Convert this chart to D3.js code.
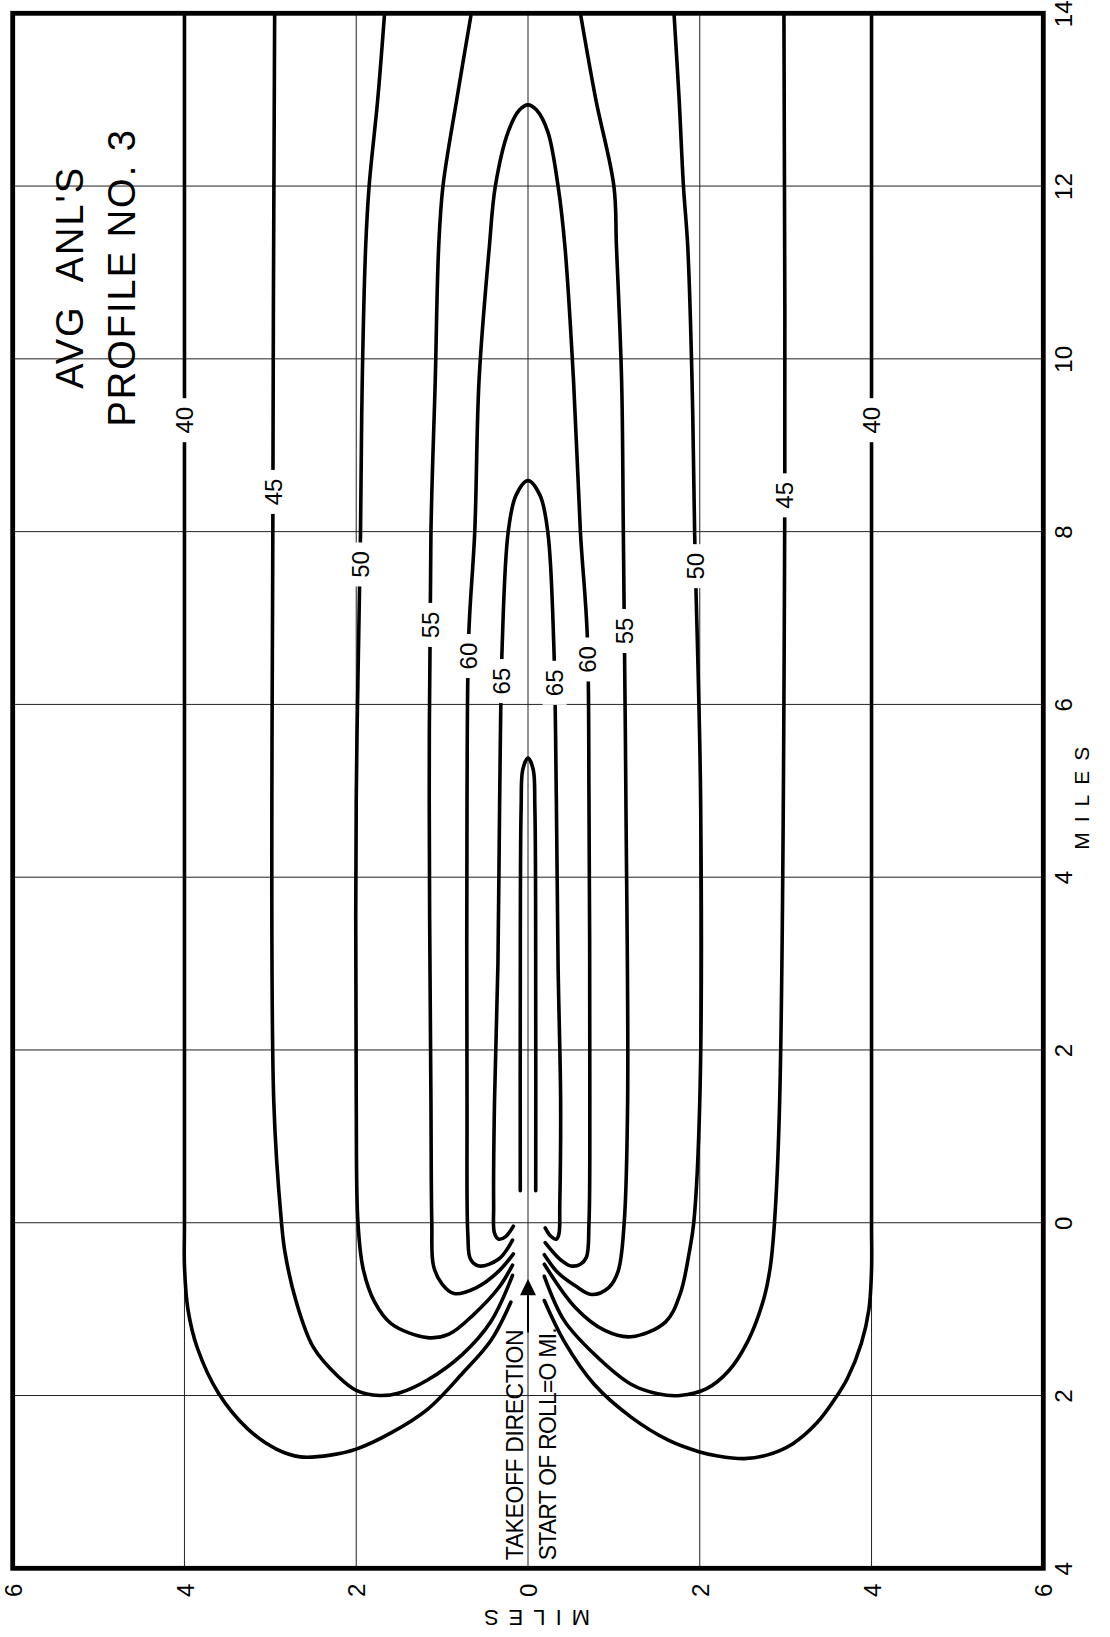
<!DOCTYPE html>
<html>
<head>
<meta charset="utf-8">
<script src="https://cdn.jsdelivr.net/npm/d3@7"></script>
<style>
    html, body { margin: 0; padding: 0; background: #fff; }
    svg { display: block; }
    text { font-family: "Liberation Sans", Arial, sans-serif; fill: #000; }
</style>
</head>
<body>
<svg id="drawing_region"></svg>
<script>
// ticks, miles
const alongTicks = [-4, -2, 0, 2, 4, 6, 8, 10, 12, 14];
const lateralTicks = [-6, -4, -2, 0, 2, 4, 6];
const alongGrid = [-2, 0, 2, 4, 6, 8, 10, 12];
const lateralGrid = [-4, -2, 0, 2, 4];

// contours as [lateral, along] in miles (left half, right half)
const contour40 = [
    [[-4.0, 14], [-4.0, 9.3], [-4.0, 4], [-4.0, 0], [-4.0, -0.5], [-3.96, -1.0], [-3.85, -1.45], [-3.6, -1.98], [-3.27, -2.38], [-2.93, -2.62], [-2.65, -2.71], [-2.3, -2.69], [-2.0, -2.62], [-1.59, -2.43], [-1.17, -2.16], [-0.76, -1.74], [-0.43, -1.36], [-0.2, -0.92]],
    [[4.0, 14], [4.0, 9.3], [4.0, 4], [4.0, 0], [4.0, -0.55], [3.97, -1.0], [3.88, -1.4], [3.72, -1.8], [3.58, -2.03], [3.37, -2.31], [3.08, -2.56], [2.78, -2.69], [2.52, -2.73], [2.21, -2.70], [1.99, -2.65], [1.64, -2.52], [1.2, -2.25], [0.77, -1.87], [0.42, -1.37], [0.19, -0.9]]
];
const contour45 = [
    [[-2.95, 14], [-2.97, 8.5], [-2.96, 1.4], [-2.87, 0], [-2.83, -0.34], [-2.70, -0.91], [-2.50, -1.44], [-2.21, -1.78], [-2.0, -1.94], [-1.73, -2.0], [-1.50, -1.97], [-1.17, -1.82], [-0.76, -1.52], [-0.43, -1.14], [-0.18, -0.61]],
    [[2.98, 14], [2.99, 8.4], [2.93, 1.4], [2.87, 0], [2.82, -0.52], [2.74, -0.9], [2.56, -1.37], [2.34, -1.71], [2.08, -1.92], [1.77, -2.0], [1.51, -1.98], [1.2, -1.87], [0.77, -1.52], [0.42, -1.13], [0.19, -0.62]]
];
const contour50 = [
    [[-1.67, 14], [-1.75, 13], [-1.85, 12], [-1.89, 11.3], [-1.93, 9.75], [-1.95, 8], [-2.0, 4.9], [-2.0, 1.4], [-1.98, 0], [-1.92, -0.53], [-1.79, -0.91], [-1.59, -1.17], [-1.17, -1.33], [-0.92, -1.29], [-0.63, -1.06], [-0.34, -0.75], [-0.18, -0.49]],
    [[1.70, 14], [1.76, 13], [1.81, 12], [1.86, 11.3], [1.91, 9.75], [1.94, 8], [2.01, 4.9], [2.0, 1.4], [1.93, 0], [1.88, -0.33], [1.77, -0.83], [1.6, -1.15], [1.2, -1.32], [0.9, -1.25], [0.55, -0.98], [0.19, -0.48]]
];
const contour55 = [
    [[-0.66, 14], [-0.83, 13], [-0.99, 12], [-1.04, 11.3], [-1.08, 9.75], [-1.13, 8], [-1.15, 4.9], [-1.13, 1.4], [-1.12, 0], [-1.1, -0.5], [-1.0, -0.71], [-0.86, -0.82], [-0.6, -0.75], [-0.34, -0.56], [-0.17, -0.36]],
    [[0.61, 14], [0.79, 13], [1.0, 12], [1.03, 11.3], [1.09, 9.75], [1.11, 8], [1.14, 4.9], [1.16, 1.4], [1.12, 0], [1.05, -0.56], [0.94, -0.75], [0.74, -0.83], [0.55, -0.73], [0.35, -0.58], [0.19, -0.37]]
];
const contour60 = [
    [[-0.18, -0.2], [-0.34, -0.42], [-0.57, -0.5], [-0.67, -0.42], [-0.70, -0.15], [-0.71, 1.4], [-0.71, 4.9], [-0.69, 6.8], [-0.62, 8], [-0.57, 9.75], [-0.45, 11.3], [-0.38, 12], [-0.23, 12.63], [-0.1, 12.88], [0, 12.94], [0.1, 12.88], [0.23, 12.63], [0.35, 12], [0.43, 11.3], [0.53, 9.75], [0.61, 8], [0.69, 6.8], [0.71, 4.9], [0.72, 1.4], [0.71, 0], [0.68, -0.4], [0.61, -0.48], [0.50, -0.5], [0.37, -0.42], [0.2, -0.23]]
];
const contour65 = [
    [[-0.17, -0.04], [-0.26, -0.16], [-0.34, -0.19], [-0.39, -0.12], [-0.40, 0.2], [-0.39, 1.4], [-0.35, 3], [-0.33, 4.9], [-0.30, 6.7], [-0.23, 8], [-0.14, 8.42], [0, 8.59], [0.14, 8.42], [0.23, 8], [0.30, 6.7], [0.33, 4.9], [0.35, 3], [0.38, 1.4], [0.37, 0.2], [0.36, -0.13], [0.33, -0.19], [0.26, -0.15], [0.2, -0.06]]
];
const contour70 = [
    [[-0.09, 0.37], [-0.09, 2.5], [-0.08, 4.8], [-0.06, 5.25], [0, 5.38], [0.06, 5.25], [0.08, 4.8], [0.09, 2.5], [0.09, 0.37]]
];
const contourLevels = [40, 45, 50, 55, 60, 65, 70];
const labelPoints = [
    {level: 40, x: -4.0, y: 9.29}, {level: 40, x: 4.0, y: 9.29},
    {level: 45, x: -2.97, y: 8.46}, {level: 45, x: 2.99, y: 8.42},
    {level: 50, x: -1.95, y: 7.62}, {level: 50, x: 1.95, y: 7.6},
    {level: 55, x: -1.14, y: 6.92}, {level: 55, x: 1.12, y: 6.85},
    {level: 60, x: -0.69, y: 6.56}, {level: 60, x: 0.69, y: 6.52},
    {level: 65, x: -0.31, y: 6.27}, {level: 65, x: 0.31, y: 6.25}
];
// takeoff arrow, along-track miles
const arrowTip = -0.65, arrowBase = -0.84, arrowTail = -1.27;

class ContourMap {
    constructor (config, contours, labels){
        this.config = {
            parent: config.parent,
            width: config.width || 1110,
            height: config.height || 1637,
            margin: config.margin || {top:13, right:67, bottom:69, left:13},
        }
        this.contours = contours;
        this.labels = labels;
        this.init();
    }

    init() {
        let self = this;

        self.svg = d3.select( self.config.parent )
            .attr('width', self.config.width)
            .attr('height', self.config.height);

        self.chart = self.svg.append('g')
            .attr('transform', `translate(${self.config.margin.left}, ${self.config.margin.top})`);

        self.inner_width = self.config.width - self.config.margin.left - self.config.margin.right;
        self.inner_height = self.config.height - self.config.margin.top - self.config.margin.bottom;

        self.xscale = d3.scaleLinear().domain([-6, 6]).range([0, self.inner_width]);
        self.yscale = d3.scaleLinear().domain([-4, 14]).range([self.inner_height, 0]);
    }

    render() {
        let self = this;
        const xs = self.xscale, ys = self.yscale;

        self.svg.append('clipPath').attr('id', 'plot_clip')
            .append('rect')
            .attr('x', 0).attr('y', 0)
            .attr('width', self.inner_width).attr('height', self.inner_height);

        // grid
        self.chart.append('g').selectAll('line').data(lateralGrid)
            .join('line')
            .attr('x1', d => xs(d)).attr('x2', d => xs(d))
            .attr('y1', 0).attr('y2', self.inner_height)
            .attr('stroke', '#222').attr('stroke-width', 1);
        self.chart.append('g').selectAll('line').data(alongGrid)
            .join('line')
            .attr('x1', 0).attr('x2', self.inner_width)
            .attr('y1', d => ys(d)).attr('y2', d => ys(d))
            .attr('stroke', '#222').attr('stroke-width', 1);

        // contour lines
        const line = d3.line()
            .x(d => xs(d[0]))
            .y(d => ys(d[1]))
            .curve(d3.curveCatmullRom.alpha(0.5));

        const segs = self.contours.flatMap(c => c.segments.map(s => ({level: c.level, pts: s})));
        self.chart.append('g').attr('clip-path', 'url(#plot_clip)')
            .selectAll('path').data(segs)
            .join('path')
            .attr('d', d => line(d.pts))
            .attr('fill', 'none')
            .attr('stroke', '#000')
            .attr('stroke-width', 3.6)
            .attr('stroke-linecap', 'round')
            .attr('stroke-linejoin', 'round');

        // contour labels
        const lab = self.chart.append('g').selectAll('g').data(self.labels)
            .join('g')
            .attr('transform', d => `translate(${xs(d.x)}, ${ys(d.y)})`);
        lab.append('rect')
            .attr('x', -12).attr('y', -22)
            .attr('width', 24).attr('height', 44)
            .attr('fill', '#fff');
        lab.append('text')
            .attr('transform', 'rotate(-90)')
            .attr('text-anchor', 'middle')
            .attr('dy', '0.36em')
            .attr('font-size', 24)
            .text(d => d.level);

        // takeoff arrow
        self.chart.append('line')
            .attr('x1', xs(0)).attr('x2', xs(0))
            .attr('y1', ys(arrowTail)).attr('y2', ys(arrowBase))
            .attr('stroke', '#000').attr('stroke-width', 2);
        self.chart.append('path')
            .attr('d', `M${xs(0)},${ys(arrowTip)} L${xs(0) - 8},${ys(arrowBase)} L${xs(0) + 8},${ys(arrowBase)} Z`)
            .attr('fill', '#000');

        self.chart.append('text')
            .attr('transform', `translate(${xs(0) - 5}, ${self.inner_height - 8}) rotate(-90)`)
            .attr('font-size', 23)
            .attr('letter-spacing', -0.4)
            .text('TAKEOFF DIRECTION');
        self.chart.append('text')
            .attr('transform', `translate(${xs(0) + 28}, ${self.inner_height - 8}) rotate(-90)`)
            .attr('font-size', 23)
            .attr('letter-spacing', -0.8)
            .text('START OF ROLL=O MI.');

        // frame
        self.chart.append('rect')
            .attr('x', 0).attr('y', 0)
            .attr('width', self.inner_width).attr('height', self.inner_height)
            .attr('fill', 'none')
            .attr('stroke', '#000')
            .attr('stroke-width', 4.8);

        // axes
        self.yaxis = d3.axisRight(ys)
            .tickValues(alongTicks)
            .tickSize(0)
            .tickFormat(d => Math.abs(d));
        self.yaxis_group = self.chart.append('g')
            .attr('transform', `translate(${self.inner_width}, 0)`)
            .call(self.yaxis);

        self.xaxis = d3.axisBottom(xs)
            .tickValues(lateralTicks)
            .tickSize(0)
            .tickFormat(d => Math.abs(d));
        self.xaxis_group = self.chart.append('g')
            .attr('transform', `translate(0, ${self.inner_height})`)
            .call(self.xaxis);

        [self.yaxis_group, self.xaxis_group].forEach(g => {
            g.select('.domain').remove();
            g.selectAll('text')
                .attr('x', 0).attr('y', 0)
                .attr('dy', '0.36em')
                .attr('text-anchor', 'middle')
                .attr('font-size', 24)
                .attr('font-family', '"Liberation Sans", Arial, sans-serif')
                .attr('fill', '#000');
        });
        self.yaxis_group.selectAll('text').attr('transform', 'translate(20, 0) rotate(-90)');
        self.xaxis_group.selectAll('text').attr('transform', 'translate(0, 22) rotate(-90)');

        // axis titles
        self.chart.append('text')
            .attr('transform', `translate(${self.inner_width + 38}, 780) rotate(-90)`)
            .attr('text-anchor', 'middle')
            .attr('dy', '0.36em')
            .attr('font-size', 21)
            .attr('letter-spacing', 10)
            .text('MILES');
        self.chart.append('text')
            .attr('transform', `translate(${xs(0) + 4}, ${self.inner_height + 50}) rotate(180)`)
            .attr('text-anchor', 'middle')
            .attr('dy', '0.36em')
            .attr('font-size', 22)
            .attr('letter-spacing', 10)
            .text('MILES');

        // title
        self.chart.append('text')
            .attr('transform', 'translate(70, 264) rotate(-90)')
            .attr('text-anchor', 'middle')
            .attr('font-size', 38)
            .attr('letter-spacing', 2)
            .style('white-space', 'pre')
            .text("AVG  ANL'S");
        self.chart.append('text')
            .attr('transform', 'translate(122, 264) rotate(-90)')
            .attr('text-anchor', 'middle')
            .attr('font-size', 38)
            .attr('letter-spacing', 2)
            .style('white-space', 'pre')
            .text('PROFILE NO. 3');
    }
}

const contours = contourLevels.map((level, i) => ({
    level: level,
    segments: [contour40, contour45, contour50, contour55, contour60, contour65, contour70][i]
}));

const map = new ContourMap({
    parent: '#drawing_region',
    width: 1110,
    height: 1637,
    margin: {top:13.3, right:66.7, bottom:68.7, left:12.7},
}, contours, labelPoints);
map.render();
</script>
</body>
</html>
